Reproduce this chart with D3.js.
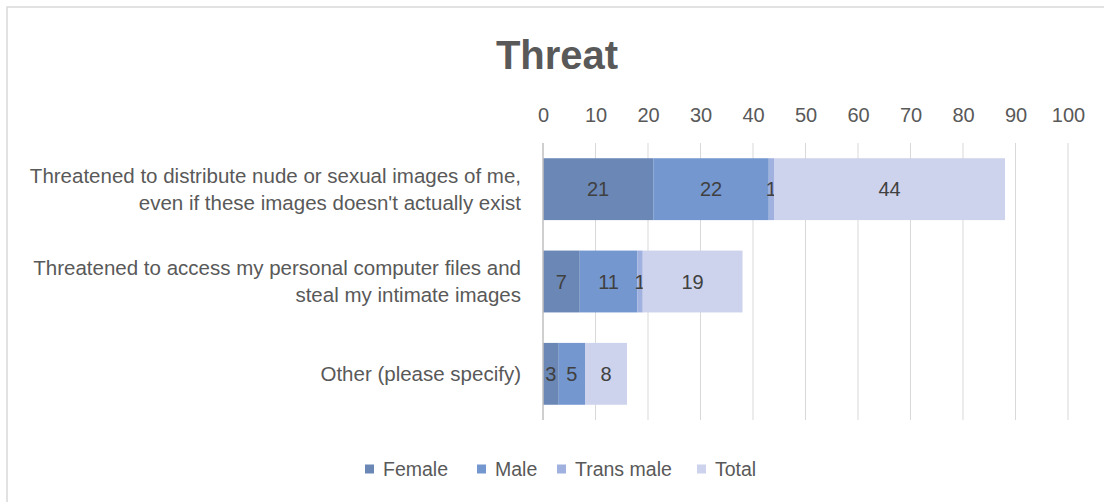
<!DOCTYPE html>
<html>
<head>
<meta charset="utf-8">
<script src="https://cdn.jsdelivr.net/npm/d3@7"></script>
<style>
  body { margin: 0; background: #fff; }
  text { font-family: "Liberation Sans", "Noto Sans", sans-serif; }
</style>
</head>
<body>
<script>
// data
const categories = [
    ["Threatened to distribute nude or sexual images of me,", "even if these images doesn't actually exist"],
    ["Threatened to access my personal computer files and", "steal my intimate images"],
    ["Other (please specify)"]
];
const seriesNames = ["Female", "Male", "Trans male", "Total"];
const female = [21, 7, 3];
const male = [22, 11, 5];
const transMale = [1, 1, 0];
const total = [44, 19, 8];
const xTicks = [0, 10, 20, 30, 40, 50, 60, 70, 80, 90, 100];

const width = 1104;
const height = 502;
const marginLeft = 543;
const marginRight = 36;
const marginTop = 143;
const plotHeight = 277;

const svg = d3.select("body")
    .append("svg")
    .attr("width", width)
    .attr("height", height);

// chart border (only top & left visible in crop)
svg.append("rect")
    .attr("x", 7).attr("y", 7)
    .attr("width", width).attr("height", height)
    .attr("fill", "none")
    .attr("stroke", "#d9d9d9")
    .attr("stroke-width", 1.5);

// title
svg.append("text")
    .attr("x", 557).attr("y", 69)
    .attr("text-anchor", "middle")
    .style("font-size", "40px")
    .style("font-weight", "bold")
    .style("fill", "#595959")
    .text("Threat");

const xScale = d3.scaleLinear()
    .domain([0, 100])
    .range([marginLeft, width - marginRight]);

const yScale = d3.scaleBand()
    .domain(d3.range(categories.length))
    .range([marginTop, marginTop + plotHeight])
    .paddingInner(0.33)
    .paddingOuter(0.165);

// gridlines
svg.append("g")
    .selectAll("line")
    .data(xTicks.slice(1))
    .join("line")
    .attr("x1", d => xScale(d)).attr("x2", d => xScale(d))
    .attr("y1", marginTop).attr("y2", marginTop + plotHeight)
    .attr("stroke", "#d9d9d9")
    .attr("stroke-width", 1);

// x axis on top
const xAxis = svg.append("g")
    .attr("transform", "translate(0,121.5)")
    .call(d3.axisTop(xScale).tickValues(xTicks).tickSize(0).tickPadding(0));
xAxis.select(".domain").remove();
xAxis.selectAll("text")
    .style("font-size", "20px")
    .style("fill", "#595959")
    .style("font-family", "Liberation Sans, sans-serif");

// stack
const rows = categories.map((c, i) => ({
    idx: i,
    "Female": female[i],
    "Male": male[i],
    "Trans male": transMale[i],
    "Total": total[i]
}));
const stacked = d3.stack().keys(seriesNames)(rows);

const colorScale = d3.scaleOrdinal()
    .domain(seriesNames)
    .range(["#6b87b6", "#7497cf", "#a0b1df", "#cdd3ec"]);

const layer = svg.append("g")
    .selectAll("g")
    .data(stacked)
    .join("g")
    .attr("fill", d => colorScale(d.key));

layer.selectAll("rect")
    .data(d => d)
    .join("rect")
    .attr("x", d => xScale(d[0]))
    .attr("y", (d, i) => yScale(i))
    .attr("width", d => xScale(d[1]) - xScale(d[0]))
    .attr("height", yScale.bandwidth());

// data labels
layer.selectAll("text")
    .data(d => d.map(v => ({ v: v, key: d.key })))
    .join("text")
    .filter(d => d.v[1] - d.v[0] > 0)
    .attr("x", d => xScale((d.v[0] + d.v[1]) / 2))
    .attr("y", d => yScale(d.v.data.idx) + yScale.bandwidth() / 2)
    .attr("dy", "0.35em")
    .attr("text-anchor", "middle")
    .style("font-size", "20px")
    .style("fill", "#404040")
    .text(d => d.v[1] - d.v[0]);

// zero axis line
svg.append("line")
    .attr("x1", xScale(0)).attr("x2", xScale(0))
    .attr("y1", marginTop).attr("y2", marginTop + plotHeight)
    .attr("stroke", "#bfbfbf")
    .attr("stroke-width", 1.5);

// category labels
const catG = svg.append("g");
categories.forEach((lines, i) => {
    const cy = yScale(i) + yScale.bandwidth() / 2;
    const t = catG.append("text")
        .attr("text-anchor", "end")
        .style("font-size", "20.5px")
        .style("fill", "#595959");
    lines.forEach((line, j) => {
        t.append("tspan")
            .attr("x", 521)
            .attr("y", cy + (j - (lines.length - 1) / 2) * 27)
            .attr("dy", "0.35em")
            .text(line);
    });
});

// legend
const legendX = [365, 477, 557, 697];
const legend = svg.append("g")
    .selectAll("g")
    .data(seriesNames)
    .join("g")
    .attr("transform", (d, i) => "translate(" + legendX[i] + ",469)");
legend.append("rect")
    .attr("x", 0).attr("y", -4.5)
    .attr("width", 9).attr("height", 9)
    .attr("fill", d => colorScale(d));
legend.append("text")
    .attr("x", 18)
    .attr("dy", "0.35em")
    .style("font-size", "19.5px")
    .style("fill", "#595959")
    .text(d => d);
</script>
</body>
</html>
